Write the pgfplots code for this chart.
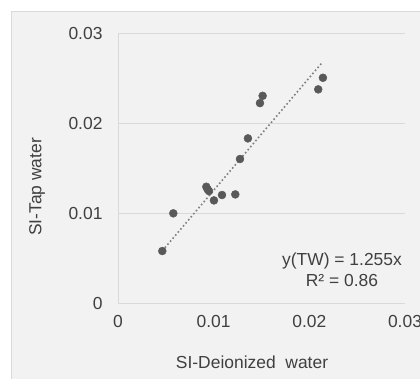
\documentclass[border=0pt]{standalone}
\usepackage{pgfplots}
\pgfplotsset{compat=1.18}
\usepackage{fontspec}
\setmainfont{Liberation Sans}
\definecolor{panel}{HTML}{F2F2F2}
\definecolor{pborder}{HTML}{D9D9D9}
\definecolor{gridc}{HTML}{D9D9D9}
\definecolor{ptc}{HTML}{595959}
\definecolor{trend}{HTML}{808080}
\definecolor{txt}{HTML}{404040}
\begin{document}
\begin{tikzpicture}[x=1bp,y=1bp]
\path[use as bounding box, fill=white] (0,0) rectangle (420,-379);
\filldraw[fill=panel, draw=pborder, line width=0.8bp] (11,-11) rectangle (425,-384);
\begin{axis}[
  at={(118bp,-303bp)}, anchor=south west,
  scale only axis, width=287bp, height=269.3bp,
  xmin=0, xmax=0.03, ymin=0, ymax=0.03,
  xtick={0,0.01,0.02,0.03}, ytick={0,0.01,0.02,0.03},
  scaled ticks=false,
  /pgf/number format/assume math mode=true,
  /pgf/number format/fixed, /pgf/number format/precision=2,
  ticklabel style={font=\fontsize{17.5}{20}\selectfont, text=txt},
  xticklabel style={yshift=-9bp},
  yticklabel style={xshift=-12bp},
  major tick length=0pt,
  axis line style={draw=gridc, line width=0.8bp},
  axis x line*=bottom, axis y line*=left,
  ymajorgrids, grid style={gridc, line width=0.8bp},
  clip=false,
  xlabel={SI-Deionized\ \ water}, ylabel={SI-Tap water},
  label style={font=\fontsize{17.5}{20}\selectfont, text=txt},
  xlabel style={at={(axis description cs:0.467,-0.219)}, anchor=center},
  ylabel style={at={(axis description cs:-0.282,0.431)}, anchor=center},
]
\addplot[trend, line width=1.6bp, dotted, dash pattern=on 1.6bp off 2.4bp] coordinates {(0.00463,0.00581) (0.02128,0.02671)};
\addplot[only marks, mark=*, mark size=4bp, color=ptc, mark options={fill=ptc, draw=ptc}] coordinates {
(0.00463,0.00579)
(0.00578,0.00999)
(0.00923,0.01295)
(0.00937,0.01266)
(0.00951,0.01247)
(0.01003,0.01143)
(0.01087,0.01203)
(0.01226,0.01210)
(0.01275,0.01604)
(0.01358,0.01834)
(0.01484,0.02227)
(0.01512,0.02308)
(0.02093,0.02380)
(0.02142,0.02509)
};
\end{axis}
\node[align=center, text=txt, font=\fontsize{17.5}{21}\selectfont] at (342,-269.5) {y(TW) = 1.255x\\R² = 0.86};
\end{tikzpicture}
\end{document}
